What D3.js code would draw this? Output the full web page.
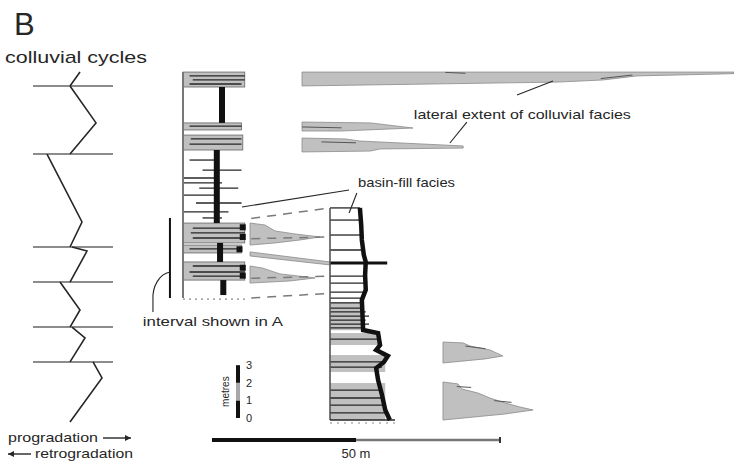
<!DOCTYPE html>
<html><head><meta charset="utf-8">
<script src="https://cdn.jsdelivr.net/npm/d3@7"></script>
<style>body{margin:0;background:#fff}svg{display:block;font-family:"Liberation Sans",Arial,sans-serif}</style>
</head><body><svg id="c" width="734" height="462"></svg>
<script>
// ---------------- DATA (heights in metres, lateral distances in metres) ----------------
const cycleBoundaries = [18.98, 15.11, 9.83, 7.84, 5.28, 3.30];
const cycleTraces = [
  [[47,19.77],[37,18.98]],
  [[37,18.98],[63,16.88],[37,15.11]],
  [[14,15.11],[49,11.25],[37,9.83]],
  [[39,9.83],[54,9.6],[37,7.84]],
  [[27,7.84],[47,6.25],[37,5.28]],
  [[39,5.28],[52,4.66],[37,3.30]],
  [[60,3.30],[69,2.39],[37,-0.11]]
];
const col1Range = [6.93, 19.77];
const col1Beds = [[18.92,19.77,0.95],[16.48,16.88,0.9],[15.34,16.19,0.92],[10.06,11.19,0.95],[9.49,9.94,0.9],[7.95,8.98,0.95]];
const col1Bars = [[16.88,18.92,0.6],[11.19,15.34,0.52],[8.98,10.06,0.57],[7.1,7.95,0.62]];
const col1Laminae = [
  [19.55,0.1,0.95],[19.32,0.15,0.95],[19.09,0.1,0.9],[16.7,0.1,0.9],[15.97,0.12,0.9],[15.68,0.1,0.9],
  [14.77,0.1,0.55],[14.2,0.3,0.9],[13.75,0.0,0.5],[13.47,0.0,0.6],[13.18,0.25,0.85],[12.78,0.0,0.5],
  [12.33,0.2,0.9],[11.82,0.0,0.7],[11.48,0.3,0.6],
  [10.9,0.15,0.95],[10.63,0.12,0.95],[10.34,0.15,0.95],[9.72,0.1,0.9],[8.75,0.15,0.95],[8.41,0.1,0.95],[8.18,0.15,0.95]
];
const col1Tips = [[10.95,0.95],[10.4,0.95],[9.7,0.9],[8.65,0.95],[8.2,0.95]];
const col2Range = [0, 12.05];
const col2Beds = [[0,2.1,0.85],[2.73,3.69,0.85],[4.26,4.94,0.75],[5.1,6.7,0.5]];
const col2Lines = [[11.36,0.48],[10.51,0.49],[9.66,0.52],[8.18,0.54],[7.78,0.55],[7.27,0.55],[6.93,0.5],
  [6.65,0.5],[6.36,0.5],[6.14,0.55],[5.9,0.6],[5.68,0.55],[5.45,0.6],[5.23,0.5],[4.6,0.75],[3.3,0.8],
  [3.0,0.8],[1.7,0.8],[1.25,0.8],[0.85,0.8],[0.4,0.85]];
const col2Marker = [8.92, 0.88];
const col2Profile = [[12.05,0.46],[11.08,0.48],[10.23,0.49],[9.38,0.52],[8.98,0.55],[8.24,0.54],[7.39,0.55],
  [6.82,0.49],[5.11,0.51],[4.94,0.74],[4.26,0.77],[3.98,0.71],[3.64,0.89],[3.3,0.83],[2.95,0.71],
  [2.27,0.74],[1.42,0.8],[0.57,0.85],[0,0.92]];
const lateralWedges = [
  [[31.25,19.77],[181.25,19.77],[181.25,19.68],[147.6,19.55],[135.8,19.32],[120.1,19.2],[31.25,18.98]],
  [[31.25,16.93],[55,16.88],[69.8,16.59],[45,16.42],[31.25,16.42]],
  [[31.25,16.02],[46.2,15.97],[51.4,15.85],[87.2,15.57],[87.2,15.45],[58.3,15.40],[54.9,15.28],[31.25,15.23]],
  [[13.2,11.19],[18.4,11.08],[21.9,10.74],[28.8,10.57],[37.5,10.40],[30.6,10.23],[21.9,10.06],[13.2,9.94]],
  [[13.2,9.55],[41,8.98],[41,8.81],[13.2,9.32]],
  [[13.2,8.75],[17.4,8.64],[23.6,8.30],[35.8,8.07],[27.1,7.90],[13.2,7.78]],
  [[80.2,4.43],[87.2,4.38],[89.6,4.20],[96.5,3.98],[101,3.64],[94.8,3.47],[80.2,3.24]],
  [[80.2,2.16],[85.4,2.05],[86.8,1.76],[92.4,1.53],[96.5,1.25],[101.7,0.97],[106.9,0.74],[111.5,0.57],[101.7,0.34],[80.2,0]]
];
const wedgeStreaks = [[[81,19.75],[88,19.7]],[[135,19.4],[146,19.6]],[[31.25,16.65],[45,16.6]],[[38,15.8],[50,15.75]],[[88,4.2],[95,4.05]],[[85,1.9],[90,1.85]],[[98,1.1],[104,1.0]]];
const correlations = [[11.45,12.05],[10.3,10.4],[8.05,8.18],[6.93,7.2]];
const leaders = [
  [[105.9,18.47],[118.4,19.26]],
  [[88.5,16.93],[82.6,15.74]],
  [[47.6,13.07],[10.4,12.1]],
  [[50.3,12.9],[47.6,11.76]]
];
const intervalShown = [6.93, 11.48];
const metreTicks = [0,1,2,3];
const metreSegments = [[0,1,'#111'],[1,2,'#a8a8a8'],[2,3,'#111']];
const lateralBar = [[0,50],[50,100]];
const barLabel = '50 m';

// ---------------- SCALES ----------------
const svg = d3.select('#c');
const y = d3.scaleLinear().domain([0,20]).range([420,68]);
const xLat = d3.scaleLinear().domain([0,100]).range([212,500]);
const xCyc = d3.scaleLinear().domain([0,80]).range([33,113]);
const g1 = d3.scaleLinear().domain([0,1]).range([183,248]);
const g2 = d3.scaleLinear().domain([0,1]).range([330,395]);
const INK = '#262626', GRAY = '#c0c0c0';

// ---------------- TITLES ----------------
svg.append('text').attr('x',14).attr('y',35).attr('font-size',31).attr('fill',INK).text('B');
svg.append('text').attr('x',5).attr('y',63).attr('font-size',17).attr('fill',INK)
  .attr('textLength',142).attr('lengthAdjust','spacingAndGlyphs').text('colluvial cycles');

// ---------------- CYCLES PANEL ----------------
svg.selectAll('.cb').data(cycleBoundaries).join('line')
  .attr('x1',xCyc(0)).attr('x2',xCyc(80)).attr('y1',d=>y(d)).attr('y2',d=>y(d))
  .attr('stroke','#8c8c8c').attr('stroke-width',2);
const lineC = d3.line().x(d=>xCyc(d[0])).y(d=>y(d[1]));
svg.selectAll('.ct').data(cycleTraces).join('path').attr('d',lineC)
  .attr('fill','none').attr('stroke',INK).attr('stroke-width',1.6);

// arrows legend
const arrow = (x1,x2,yy)=>{
  svg.append('line').attr('x1',x1).attr('x2',x2).attr('y1',yy).attr('y2',yy).attr('stroke',INK).attr('stroke-width',1.4);
  const s = x2>x1?1:-1;
  svg.append('path').attr('d',`M${x2},${yy}L${x2-6*s},${yy-3}L${x2-6*s},${yy+3}Z`).attr('fill',INK);
};
svg.append('text').attr('x',8).attr('y',442).attr('font-size',13).attr('fill',INK)
  .attr('textLength',90).attr('lengthAdjust','spacingAndGlyphs').text('progradation');
arrow(103,131,438);
svg.append('text').attr('x',35).attr('y',458).attr('font-size',13).attr('fill',INK)
  .attr('textLength',98).attr('lengthAdjust','spacingAndGlyphs').text('retrogradation');
arrow(31,8,454);

// ---------------- WEDGES ----------------
const lineL = d3.line().x(d=>xLat(d[0])).y(d=>y(d[1]));
svg.selectAll('.w').data(lateralWedges).join('path').attr('d',d=>lineL(d)+'Z')
  .attr('fill',GRAY).attr('stroke','#8a8a8a').attr('stroke-width',0.8);
svg.selectAll('.ws').data(wedgeStreaks).join('path').attr('d',lineL)
  .attr('stroke','#555').attr('stroke-width',1).attr('fill','none');

// correlation dashes
svg.selectAll('.cor').data(correlations).join('line')
  .attr('x1',g1(1.05)).attr('x2',g2(0)).attr('y1',d=>y(d[0])).attr('y2',d=>y(d[1]))
  .attr('stroke','#7a7a7a').attr('stroke-width',1.5).attr('stroke-dasharray','9 7');

// ---------------- COLUMN 1 ----------------
svg.selectAll('.b1').data(col1Beds).join('rect')
  .attr('x',g1(0)).attr('width',d=>g1(d[2])-g1(0)).attr('y',d=>y(d[1])).attr('height',d=>y(d[0])-y(d[1]))
  .attr('fill',GRAY).attr('stroke','#666').attr('stroke-width',0.8);
svg.selectAll('.l1').data(col1Laminae).join('line')
  .attr('x1',d=>g1(d[1])).attr('x2',d=>g1(d[2])).attr('y1',d=>y(d[0])).attr('y2',d=>y(d[0]))
  .attr('stroke',INK).attr('stroke-width',1.3);
svg.selectAll('.bar1').data(col1Bars).join('rect')
  .attr('x',d=>g1(d[2])-3).attr('width',6).attr('y',d=>y(d[1])).attr('height',d=>y(d[0])-y(d[1]))
  .attr('fill','#111');
svg.selectAll('.t1').data(col1Tips).join('rect')
  .attr('x',d=>g1(d[1])-5).attr('width',6).attr('y',d=>y(d[0])-3).attr('height',6).attr('fill','#111');
svg.append('line').attr('x1',g1(0)).attr('x2',g1(0)).attr('y1',y(col1Range[1])).attr('y2',y(col1Range[0]))
  .attr('stroke','#777').attr('stroke-width',2);
svg.append('line').attr('x1',g1(0)).attr('x2',g1(1)).attr('y1',y(col1Range[0])+1).attr('y2',y(col1Range[0])+1)
  .attr('stroke','#888').attr('stroke-width',1.2).attr('stroke-dasharray','2 4');

// ---------------- COLUMN 2 ----------------
svg.selectAll('.b2').data(col2Beds).join('rect')
  .attr('x',g2(0)).attr('width',d=>g2(d[2])-g2(0)).attr('y',d=>y(d[1])).attr('height',d=>y(d[0])-y(d[1]))
  .attr('fill',GRAY);
svg.selectAll('.l2').data(col2Lines).join('line')
  .attr('x1',g2(0)).attr('x2',d=>g2(d[1])).attr('y1',d=>y(d[0])).attr('y2',d=>y(d[0]))
  .attr('stroke',INK).attr('stroke-width',1.3);
svg.append('line').attr('x1',g2(0)).attr('x2',g2(col2Marker[1])).attr('y1',y(col2Marker[0])).attr('y2',y(col2Marker[0]))
  .attr('stroke','#111').attr('stroke-width',3);
svg.append('line').attr('x1',g2(0)).attr('x2',g2(col2Profile[0][1])).attr('y1',y(col2Range[1])).attr('y2',y(col2Range[1]))
  .attr('stroke',INK).attr('stroke-width',1.3);
svg.append('line').attr('x1',g2(0)).attr('x2',g2(0)).attr('y1',y(col2Range[1])).attr('y2',y(col2Range[0]))
  .attr('stroke','#555').attr('stroke-width',1.6);
svg.append('line').attr('x1',g2(0)).attr('x2',g2(1)).attr('y1',y(col2Range[0])).attr('y2',y(col2Range[0]))
  .attr('stroke',INK).attr('stroke-width',1.6);
svg.append('line').attr('x1',g2(0)).attr('x2',g2(1)).attr('y1',y(col2Range[0])+3).attr('y2',y(col2Range[0])+3)
  .attr('stroke','#888').attr('stroke-width',1.2).attr('stroke-dasharray','2 5');
svg.append('path').datum(col2Profile).attr('d',d3.line().x(d=>g2(d[1])).y(d=>y(d[0])))
  .attr('fill','none').attr('stroke','#111').attr('stroke-width',4.5).attr('stroke-linejoin','miter');

// ---------------- LEADERS & LABELS ----------------
svg.selectAll('.ld').data(leaders).join('path').attr('d',lineL)
  .attr('stroke',INK).attr('stroke-width',1.1).attr('fill','none');
svg.append('text').attr('x',xLat(70.1)).attr('y',y(17.1)).attr('font-size',13).attr('fill',INK)
  .attr('textLength',217).attr('lengthAdjust','spacingAndGlyphs').text('lateral extent of colluvial facies');
svg.append('text').attr('x',xLat(50.7)).attr('y',y(13.22)).attr('font-size',13).attr('fill',INK)
  .attr('textLength',97).attr('lengthAdjust','spacingAndGlyphs').text('basin-fill facies');

// interval shown in A
const xi = xLat(-14.6);
svg.append('line').attr('x1',xi).attr('x2',xi).attr('y1',y(intervalShown[1])).attr('y2',y(intervalShown[0]))
  .attr('stroke','#111').attr('stroke-width',2);
svg.append('path').attr('d',`M${xi},${y(8.41)}A20,26 0 0 0 ${xLat(-20.5)},${y(6.82)}L${xLat(-20.5)},${y(6.14)}`)
  .attr('fill','none').attr('stroke',INK).attr('stroke-width',1.1);
svg.append('text').attr('x',xLat(-24)).attr('y',y(5.34)).attr('font-size',13).attr('fill',INK)
  .attr('textLength',140).attr('lengthAdjust','spacingAndGlyphs').text('interval shown in A');

// metres scale
const mY = h => y(h) - 2;
svg.selectAll('.ms').data(metreSegments).join('rect')
  .attr('x',236).attr('width',4).attr('y',d=>mY(d[1])).attr('height',d=>mY(d[0])-mY(d[1])).attr('fill',d=>d[2]);
svg.selectAll('.mt').data(metreTicks).join('text')
  .attr('x',246).attr('y',d=>mY(d)+4).attr('font-size',11).attr('fill',INK).text(d=>d);
svg.append('text').attr('transform',`translate(229,${mY(1.5)}) rotate(-90)`).attr('text-anchor','middle')
  .attr('font-size',10).attr('fill',INK).text('metres');

// lateral scale bar
svg.append('rect').attr('x',xLat(lateralBar[0][0])).attr('width',xLat(lateralBar[0][1])-xLat(lateralBar[0][0]))
  .attr('y',438).attr('height',4).attr('fill','#111');
svg.append('line').attr('x1',xLat(lateralBar[1][0])).attr('x2',xLat(lateralBar[1][1])).attr('y1',440).attr('y2',440)
  .attr('stroke','#777').attr('stroke-width',2.5);
svg.append('line').attr('x1',xLat(lateralBar[1][1])).attr('x2',xLat(lateralBar[1][1])).attr('y1',437).attr('y2',443)
  .attr('stroke','#333').attr('stroke-width',2);
svg.append('text').attr('x',xLat(50)).attr('y',458).attr('text-anchor','middle').attr('font-size',13).attr('fill',INK).text(barLabel);
</script></body></html>
